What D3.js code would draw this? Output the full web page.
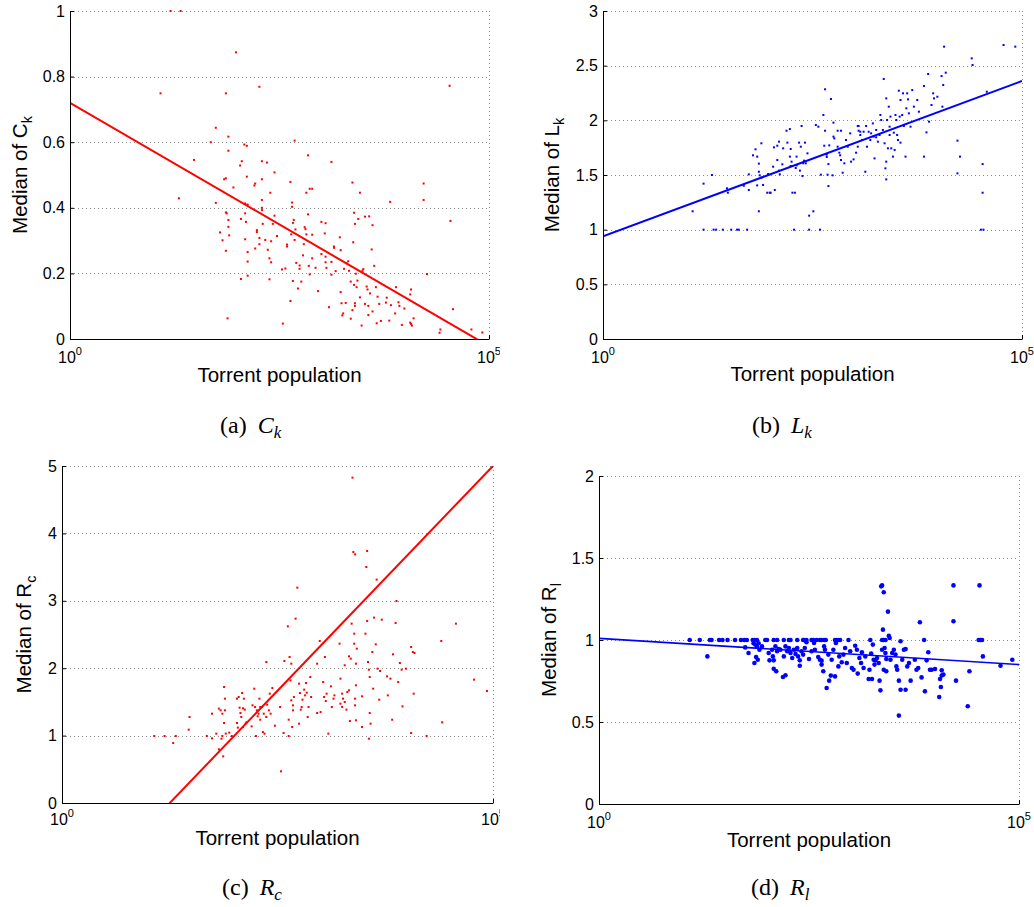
<!DOCTYPE html>
<html>
<head>
<meta charset="utf-8">
<script src="https://cdn.jsdelivr.net/npm/d3@7"></script>
<style>
  body { margin: 0; background: #fff; }
  svg { display: block; }
  .tick text { font-family: "Liberation Sans", Arial, sans-serif; font-size: 16px; fill: #000; }
</style>
</head>
<body>
<div id="chart"></div>
<script>
// points are [log10(torrent population), median value]
var ckPoints = [[1.20,1.000],[1.32,1.000],[1.98,0.874],[1.08,0.749],[1.86,0.749],[2.26,0.769],[4.53,0.772],[1.48,0.546],[1.30,0.429],[1.74,0.644],[1.68,0.600],[1.89,0.617],[1.89,0.574],[2.08,0.593],[2.11,0.589],[2.68,0.605],[2.84,0.560],[3.12,0.540],[2.05,0.542],[2.03,0.529],[2.29,0.542],[2.35,0.538],[2.44,0.508],[2.11,0.495],[2.21,0.474],[2.20,0.468],[2.29,0.487],[1.95,0.462],[1.86,0.490],[1.84,0.487],[2.63,0.479],[3.37,0.477],[4.22,0.474],[4.22,0.424],[3.82,0.418],[3.46,0.446],[2.82,0.446],[2.86,0.458],[2.89,0.458],[1.74,0.415],[2.09,0.413],[2.12,0.410],[2.29,0.424],[2.29,0.400],[2.29,0.393],[2.39,0.446],[2.65,0.416],[2.65,0.403],[1.86,0.386],[1.87,0.383],[1.89,0.363],[2.09,0.383],[2.10,0.357],[2.04,0.366],[1.89,0.342],[1.79,0.325],[1.82,0.301],[1.90,0.316],[2.09,0.304],[1.86,0.269],[1.88,0.063],[2.04,0.183],[2.12,0.193],[2.12,0.236],[2.12,0.265],[2.21,0.276],[2.23,0.332],[2.23,0.326],[2.26,0.308],[2.26,0.289],[2.30,0.351],[2.33,0.302],[2.36,0.272],[2.38,0.246],[2.38,0.182],[2.40,0.234],[2.40,0.298],[2.42,0.351],[2.44,0.376],[2.47,0.314],[2.54,0.047],[2.53,0.212],[2.57,0.215],[2.59,0.282],[2.59,0.288],[2.64,0.319],[2.66,0.354],[2.67,0.363],[2.68,0.302],[2.69,0.334],[2.70,0.232],[2.63,0.116],[2.66,0.177],[2.72,0.154],[2.74,0.224],[2.74,0.214],[2.76,0.175],[2.78,0.255],[2.79,0.289],[2.80,0.341],[2.81,0.335],[2.84,0.380],[2.85,0.223],[2.82,0.319],[2.86,0.197],[2.89,0.318],[2.89,0.246],[2.93,0.217],[2.96,0.146],[3.00,0.357],[3.00,0.259],[3.04,0.322],[3.05,0.353],[3.05,0.251],[3.05,0.234],[3.06,0.217],[3.09,0.097],[3.12,0.235],[3.12,0.196],[3.15,0.282],[3.15,0.278],[3.17,0.207],[3.22,0.310],[3.23,0.271],[3.23,0.143],[3.24,0.109],[3.29,0.110],[3.26,0.078],[3.25,0.072],[3.27,0.214],[3.30,0.231],[3.32,0.237],[3.33,0.208],[3.35,0.175],[3.35,0.062],[3.37,0.088],[3.38,0.295],[3.39,0.165],[3.39,0.385],[3.40,0.351],[3.40,0.109],[3.40,0.101],[3.41,0.199],[3.42,0.158],[3.43,0.178],[3.44,0.366],[3.46,0.127],[3.48,0.041],[3.49,0.208],[3.50,0.213],[3.52,0.373],[3.52,0.107],[3.54,0.160],[3.55,0.151],[3.56,0.101],[3.56,0.073],[3.57,0.374],[3.58,0.139],[3.60,0.273],[3.61,0.347],[3.61,0.084],[3.63,0.223],[3.65,0.158],[3.66,0.048],[3.67,0.129],[3.69,0.107],[3.71,0.055],[3.77,0.111],[3.78,0.126],[3.81,0.056],[3.83,0.103],[3.88,0.078],[3.89,0.158],[3.92,0.112],[3.93,0.101],[3.96,0.043],[3.99,0.093],[4.06,0.050],[4.07,0.151],[4.08,0.041],[4.06,0.136],[4.10,0.063],[4.07,0.046],[4.26,0.198],[4.41,0.019],[4.42,0.029],[4.57,0.091],[4.54,0.360],[4.79,0.029],[4.92,0.020]];

var lkPoints = [[1.07,1.168],[1.20,1.421],[1.20,1.000],[1.30,1.500],[1.32,1.000],[1.35,1.000],[1.43,1.000],[1.48,1.378],[1.49,1.338],[1.53,1.000],[1.60,1.000],[1.62,1.000],[1.72,1.000],[1.68,1.402],[1.74,1.363],[1.74,1.506],[1.79,1.680],[1.82,1.735],[1.84,1.668],[1.86,1.604],[1.86,1.530],[1.86,1.168],[1.87,1.497],[1.89,1.476],[1.89,1.790],[1.84,1.405],[1.91,1.409],[1.96,1.338],[1.99,1.338],[2.00,1.338],[1.97,1.509],[2.03,1.576],[2.05,1.363],[2.04,1.753],[2.08,1.768],[2.10,1.805],[2.08,1.637],[2.10,1.540],[2.11,1.506],[2.14,1.598],[2.15,1.744],[2.19,1.905],[2.20,1.796],[2.23,1.920],[2.23,1.668],[2.24,1.738],[2.24,1.582],[2.25,1.622],[2.26,1.338],[2.29,1.338],[2.28,1.000],[2.30,1.564],[2.31,1.588],[2.31,1.668],[2.34,1.796],[2.35,1.540],[2.37,1.948],[2.36,1.759],[2.38,1.491],[2.39,1.607],[2.40,1.631],[2.41,1.796],[2.42,1.607],[2.44,1.698],[2.46,1.128],[2.46,1.000],[2.51,1.168],[2.54,1.957],[2.57,1.942],[2.59,1.000],[2.60,1.503],[2.63,2.049],[2.64,1.768],[2.65,2.284],[2.65,1.905],[2.67,1.686],[2.67,1.665],[2.68,1.503],[2.69,1.399],[2.69,1.600],[2.70,1.771],[2.72,2.195],[2.74,1.497],[2.75,1.979],[2.75,1.851],[2.76,1.835],[2.80,1.759],[2.80,1.905],[2.82,1.704],[2.83,1.680],[2.84,1.905],[2.84,1.637],[2.86,1.521],[2.88,1.607],[2.90,1.820],[2.92,1.759],[2.95,1.881],[2.96,1.622],[2.99,1.643],[3.02,1.704],[3.04,1.948],[3.04,1.759],[3.05,1.905],[3.05,1.948],[3.07,1.896],[3.07,1.866],[3.09,1.820],[3.11,1.896],[3.13,1.530],[3.14,1.948],[3.15,1.759],[3.17,1.896],[3.19,1.820],[3.20,1.881],[3.22,1.972],[3.23,1.851],[3.24,1.652],[3.26,1.912],[3.26,1.845],[3.28,1.805],[3.30,1.866],[3.31,2.049],[3.32,2.003],[3.34,1.912],[3.35,2.378],[3.36,1.790],[3.37,1.561],[3.38,1.460],[3.38,1.622],[3.38,2.201],[3.39,2.003],[3.40,1.744],[3.41,2.125],[3.42,1.942],[3.42,1.866],[3.43,2.034],[3.44,1.744],[3.46,1.668],[3.47,1.887],[3.48,1.729],[3.49,2.049],[3.50,2.003],[3.51,1.866],[3.52,1.820],[3.53,2.271],[3.54,2.034],[3.55,1.796],[3.55,2.186],[3.57,2.049],[3.58,2.247],[3.59,1.948],[3.61,1.668],[3.62,2.110],[3.63,2.247],[3.64,2.192],[3.65,2.064],[3.67,1.942],[3.69,2.277],[3.71,2.125],[3.75,2.186],[3.77,2.079],[3.83,1.668],[3.83,2.314],[3.86,1.890],[3.88,2.424],[3.89,1.988],[3.92,2.140],[3.94,2.247],[3.95,2.201],[3.99,2.216],[4.04,2.405],[4.05,2.125],[4.06,2.323],[4.07,2.674],[4.09,2.436],[4.23,1.814],[4.23,1.515],[4.26,1.668],[4.40,2.567],[4.41,2.506],[4.53,1.600],[4.53,1.338],[4.51,1.000],[4.54,1.000],[4.58,2.262],[4.78,2.689],[4.92,2.674]];

var rcPoints = [[1.07,0.994],[1.19,0.994],[1.29,0.890],[1.32,0.994],[1.47,1.088],[1.48,1.276],[1.68,0.994],[1.74,0.959],[1.74,1.325],[1.79,1.029],[1.82,1.400],[1.84,1.375],[1.85,0.954],[1.86,0.994],[1.86,1.325],[1.88,1.721],[1.89,1.548],[1.89,1.375],[1.88,1.187],[1.90,1.029],[1.87,0.692],[1.82,0.796],[1.94,1.044],[1.97,0.994],[2.03,1.548],[2.03,1.187],[2.04,1.118],[2.05,1.573],[2.06,1.414],[2.07,1.335],[2.08,1.276],[2.09,1.632],[2.10,1.405],[2.10,1.128],[2.11,1.548],[2.12,1.385],[2.13,1.177],[2.14,1.197],[2.20,1.137],[2.21,1.449],[2.23,1.696],[2.24,1.424],[2.25,0.994],[2.26,1.375],[2.27,1.286],[2.28,1.325],[2.29,1.548],[2.30,1.424],[2.30,1.236],[2.32,1.424],[2.33,1.053],[2.34,1.325],[2.35,1.029],[2.37,1.276],[2.37,2.092],[2.38,1.459],[2.40,1.375],[2.41,1.622],[2.42,1.325],[2.44,1.706],[2.47,1.147],[2.53,1.424],[2.54,0.470],[2.57,1.039],[2.58,2.107],[2.62,2.621],[2.63,1.236],[2.63,0.994],[2.64,2.166],[2.65,1.820],[2.66,1.523],[2.66,2.067],[2.67,1.128],[2.68,1.449],[2.68,1.375],[2.69,1.573],[2.71,2.735],[2.73,3.195],[2.75,1.771],[2.75,1.177],[2.76,1.632],[2.77,1.385],[2.78,1.424],[2.79,1.533],[2.81,1.682],[2.82,1.597],[2.83,1.780],[2.84,1.637],[2.85,1.276],[2.86,1.424],[2.88,1.869],[2.89,1.573],[2.96,2.067],[2.96,1.335],[2.99,2.404],[3.00,1.350],[3.03,1.795],[3.04,1.573],[3.05,2.166],[3.06,1.513],[3.07,1.622],[3.09,1.029],[3.12,1.731],[3.13,1.424],[3.15,1.548],[3.16,1.597],[3.22,2.364],[3.23,1.845],[3.23,1.474],[3.25,1.424],[3.25,1.622],[3.26,1.548],[3.28,2.043],[3.28,1.499],[3.30,1.385],[3.31,1.647],[3.33,2.176],[3.33,1.672],[3.34,1.217],[3.35,2.141],[3.36,2.661],[3.37,4.827],[3.38,3.724],[3.40,3.689],[3.39,2.512],[3.39,2.364],[3.40,1.548],[3.40,1.449],[3.41,1.227],[3.41,2.067],[3.42,2.290],[3.41,1.746],[3.48,1.583],[3.48,1.128],[3.52,2.512],[3.53,3.501],[3.54,3.739],[3.54,2.700],[3.55,2.092],[3.56,1.978],[3.56,0.954],[3.57,1.869],[3.57,1.335],[3.58,1.177],[3.60,2.240],[3.61,1.696],[3.62,2.750],[3.64,2.354],[3.65,3.314],[3.66,1.993],[3.68,1.533],[3.69,1.958],[3.71,2.720],[3.77,1.879],[3.78,1.597],[3.81,1.845],[3.83,1.236],[3.84,2.206],[3.87,2.671],[3.88,2.997],[3.90,1.795],[3.92,2.077],[3.94,1.978],[3.95,1.434],[3.99,1.993],[4.05,1.039],[4.05,2.315],[4.07,2.240],[4.09,2.226],[4.08,1.622],[4.23,0.994],[4.40,2.404],[4.41,1.197],[4.57,2.661],[4.78,1.830],[4.93,1.662]];

var rlPoints = [[1.08,1],[1.20,1],[1.32,1],[1.34,1],[1.43,1],[1.47,1],[1.53,1],[1.62,1],[1.69,1],[1.73,1],[1.76,1],[1.83,1],[1.85,1],[1.88,1],[1.98,1],[2.00,1],[2.08,1],[2.12,1],[2.20,1],[2.26,1],[2.28,1],[2.36,1],[2.43,1],[2.44,1],[2.47,1],[2.53,1],[2.55,1],[2.59,1],[2.63,1],[2.65,1],[2.68,1],[2.70,1],[2.81,1],[2.83,1],[2.85,1],[2.87,1],[2.97,1],[3.23,1],[3.37,1],[3.39,1],[3.41,1],[4.52,1],[4.54,1],[4.56,1],
  [1.29,0.900],[1.74,0.955],[1.78,0.921],[1.84,0.980],[1.86,0.972],[1.88,0.961],[1.90,0.980],[1.91,0.941],[1.85,0.860],[1.87,0.896],[1.89,0.880],[1.94,0.961],[2.02,0.921],[2.03,0.876],[2.06,0.941],[2.07,0.900],[2.08,0.876],[2.08,0.825],[2.11,0.809],[2.10,0.961],[2.12,0.931],[2.14,0.945],[2.16,0.941],[2.19,0.774],[2.22,0.785],[2.20,0.900],[2.22,0.961],[2.24,0.931],[2.26,0.951],[2.28,0.921],[2.30,0.890],[2.32,0.941],[2.34,0.915],[2.36,0.951],[2.37,0.900],[2.39,0.876],[2.39,0.843],[2.41,0.931],[2.43,0.911],[2.45,0.951],[2.47,0.986],[2.50,0.884],[2.53,0.931],[2.56,0.982],[2.57,0.941],[2.61,0.896],[2.63,0.880],[2.65,0.874],[2.65,0.850],[2.67,0.809],[2.68,0.961],[2.69,0.941],[2.71,0.707],[2.74,0.752],[2.76,0.783],[2.81,0.778],[2.73,0.911],[2.77,0.880],[2.79,0.941],[2.82,0.982],[2.85,0.839],[2.86,0.900],[2.89,0.864],[2.91,0.911],[2.93,0.951],[2.95,0.860],[2.99,0.931],[3.01,0.829],[3.03,0.819],[3.05,0.965],[3.07,0.941],[3.08,0.795],[3.10,0.890],[3.12,0.860],[3.13,0.925],[3.15,0.829],[3.17,0.900],[3.21,0.762],[3.25,0.762],[3.22,0.819],[3.24,0.917],[3.26,0.972],[3.27,0.880],[3.28,0.850],[3.29,0.876],[3.31,0.890],[3.33,0.860],[3.34,0.752],[3.35,0.693],[3.36,1.327],[3.37,1.333],[3.39,1.291],[3.38,1.063],[3.37,0.941],[3.40,0.951],[3.41,0.921],[3.42,0.884],[3.39,0.819],[3.42,0.809],[3.44,1.173],[3.45,1.026],[3.46,1.012],[3.47,0.880],[3.49,0.921],[3.51,0.941],[3.53,0.911],[3.54,0.839],[3.55,0.819],[3.57,0.539],[3.57,0.752],[3.59,0.697],[3.65,0.697],[3.59,0.992],[3.61,0.880],[3.63,0.941],[3.65,0.945],[3.67,0.839],[3.69,0.860],[3.71,0.752],[3.76,0.880],[3.78,0.819],[3.80,0.829],[3.82,1.108],[3.84,0.772],[3.87,1.000],[3.88,0.687],[3.90,0.876],[3.92,0.925],[3.94,0.819],[3.96,0.819],[4.00,0.823],[4.05,0.652],[4.06,0.762],[4.08,0.783],[4.07,0.713],[4.08,0.815],[4.10,0.789],[4.22,1.333],[4.22,1.114],[4.25,0.752],[4.39,0.596],[4.41,0.809],[4.53,1.333],[4.57,0.900],[4.78,0.843],[4.92,0.880]];

// least-squares fits: [intercept, slope per decade]
var ckFit = [0.72, -0.1484];
var lkFit = [0.94, 0.284];
var rcFit = [-1.668, 1.3337];
var rlFit = [1.01, -0.032];

var xTicks = [1, 1e5];
var xTickExp = ['0', '5'];
var ckTicks = [0, 0.2, 0.4, 0.6, 0.8, 1];
var lkTicks = [0, 0.5, 1, 1.5, 2, 2.5, 3];
var rcTicks = [0, 1, 2, 3, 4, 5];
var rlTicks = [0, 0.5, 1, 1.5, 2];

var yLabels = [['Median of C', 'k'], ['Median of L', 'k'], ['Median of R', 'c'], ['Median of R', 'l']];
var captions = [['(a)', 'C', 'k'], ['(b)', 'L', 'k'], ['(c)', 'R', 'c'], ['(d)', 'R', 'l']];

var width = 1034;
var height = 907;

var svg = d3.select('#chart')
    .append('svg')
    .attr('width', width)
    .attr('height', height);

svg.append('rect').attr('width', width).attr('height', height).attr('fill', '#fff');

var defs = svg.append('defs');

var panels = [
    { id: 'a', pts: ckPoints, fit: ckFit, ticks: ckTicks, color: '#ff0000', dot: 'sq',
      left: 70, right: 489, top: 11, bottom: 339, clip: [0, 500],
      yLabX: 27, xLabY: 382, xTickY: 363, capX: 220, capY: 433 },
    { id: 'b', pts: lkPoints, fit: lkFit, ticks: lkTicks, color: '#0000ff', dot: 'sq',
      left: 603, right: 1022, top: 11, bottom: 339, clip: [520, 1034],
      yLabX: 559, xLabY: 381, xTickY: 363, capX: 752, capY: 433 },
    { id: 'c', pts: rcPoints, fit: rcFit, ticks: rcTicks, color: '#ff0000', dot: 'sq',
      left: 62, right: 493, top: 466, bottom: 803, clip: [0, 500],
      yLabX: 31, xLabY: 845, xTickY: 825, capX: 222, capY: 895 },
    { id: 'd', pts: rlPoints, fit: rlFit, ticks: rlTicks, color: '#0000ff', dot: 'circle',
      left: 599, right: 1019, top: 476, bottom: 804, clip: [520, 1034],
      yLabX: 556, xLabY: 847, xTickY: 828, capX: 751, capY: 895 }
];

panels.forEach(function(p, i) {
    defs.append('clipPath').attr('id', 'clip-' + p.id)
        .append('rect')
        .attr('x', p.clip[0]).attr('y', 0)
        .attr('width', p.clip[1] - p.clip[0]).attr('height', height);
    defs.append('clipPath').attr('id', 'plot-' + p.id)
        .append('rect')
        .attr('x', p.left).attr('y', p.top)
        .attr('width', p.right - p.left).attr('height', p.bottom - p.top);

    var g = svg.append('g').attr('clip-path', 'url(#clip-' + p.id + ')');

    var x = d3.scaleLog().domain([1, 1e5]).range([p.left, p.right]);
    var y = d3.scaleLinear().domain([0, d3.max(p.ticks)]).range([p.bottom, p.top]);

    // dotted grid
    g.append('g')
        .selectAll('line')
        .data(p.ticks)
        .enter()
        .append('line')
        .attr('x1', p.left).attr('x2', p.right)
        .attr('y1', d => Math.round(y(d)) + 0.5)
        .attr('y2', d => Math.round(y(d)) + 0.5)
        .style('stroke', '#8c8c8c')
        .style('stroke-dasharray', '1,3');

    g.append('g')
        .selectAll('line')
        .data(xTicks)
        .enter()
        .append('line')
        .attr('x1', d => Math.round(x(d)) + 0.5)
        .attr('x2', d => Math.round(x(d)) + 0.5)
        .attr('y1', p.top).attr('y2', p.bottom)
        .style('stroke', '#8c8c8c')
        .style('stroke-dasharray', '1,3');

    // scatter
    if (p.dot == 'sq') {
        g.append('g')
            .selectAll('rect')
            .data(p.pts)
            .enter()
            .append('rect')
            .attr('x', d => x(Math.pow(10, d[0])) - 1)
            .attr('y', d => y(d[1]) - 1)
            .attr('width', 2)
            .attr('height', 2)
            .style('fill', p.color);
    } else {
        g.append('g')
            .selectAll('circle')
            .data(p.pts)
            .enter()
            .append('circle')
            .attr('cx', d => x(Math.pow(10, d[0])))
            .attr('cy', d => y(d[1]))
            .attr('r', 2.3)
            .style('fill', p.color);
    }

    // fitted line
    var line = d3.line()
        .x(d => x(d))
        .y(d => y(p.fit[0] + p.fit[1] * Math.log10(d)));

    g.append('g')
        .attr('clip-path', 'url(#plot-' + p.id + ')')
        .append('path')
        .datum(xTicks)
        .attr('d', line)
        .style('fill', 'none')
        .style('stroke', p.color)
        .style('stroke-width', p.dot == 'sq' ? 2 : 1.6);

    // axes
    var yAxis = d3.axisLeft(y)
        .tickValues(p.ticks)
        .tickSize(-4)
        .tickSizeOuter(0)
        .tickPadding(5)
        .tickFormat(d => String(d));

    g.append('g')
        .attr('transform', 'translate(' + p.left + ',0)')
        .call(yAxis);

    var xAxis = d3.axisBottom(x)
        .tickValues(xTicks)
        .tickSize(-4)
        .tickSizeOuter(0)
        .tickFormat('');

    g.append('g')
        .attr('transform', 'translate(0,' + p.bottom + ')')
        .call(xAxis);

    g.selectAll('.domain, .tick line').style('stroke', '#000');

    // x tick labels 10^n
    g.append('g')
        .selectAll('text')
        .data(xTicks)
        .enter()
        .append('text')
        .attr('x', d => x(d) - 12)
        .attr('y', p.xTickY)
        .style('font-family', '"Liberation Sans", Arial, sans-serif')
        .style('font-size', '16px')
        .text('10')
        .append('tspan')
        .attr('dy', -8)
        .style('font-size', '11px')
        .text((d, j) => xTickExp[j]);

    // axis titles
    g.append('text')
        .attr('x', (p.left + p.right) / 2)
        .attr('y', p.xLabY)
        .attr('text-anchor', 'middle')
        .style('font-family', '"Liberation Sans", Arial, sans-serif')
        .style('font-size', '20.5px')
        .text('Torrent population');

    var yl = g.append('text')
        .attr('transform', 'translate(' + p.yLabX + ',' + ((p.top + p.bottom) / 2) + ') rotate(-90)')
        .attr('text-anchor', 'middle')
        .style('font-family', '"Liberation Sans", Arial, sans-serif')
        .style('font-size', '20.5px')
        .text(yLabels[i][0]);
    yl.append('tspan')
        .attr('dy', 5)
        .style('font-size', '14.5px')
        .text(yLabels[i][1]);

    // caption
    var cap = svg.append('text')
        .attr('x', p.capX)
        .attr('y', p.capY)
        .style('font-family', '"Liberation Serif", "Times New Roman", serif')
        .style('font-size', '24px')
        .text(captions[i][0]);
    cap.append('tspan')
        .attr('dx', 11)
        .style('font-style', 'italic')
        .text(captions[i][1]);
    cap.append('tspan')
        .attr('dy', 5)
        .style('font-style', 'italic')
        .style('font-size', '17px')
        .text(captions[i][2]);
});
</script>
</body>
</html>
